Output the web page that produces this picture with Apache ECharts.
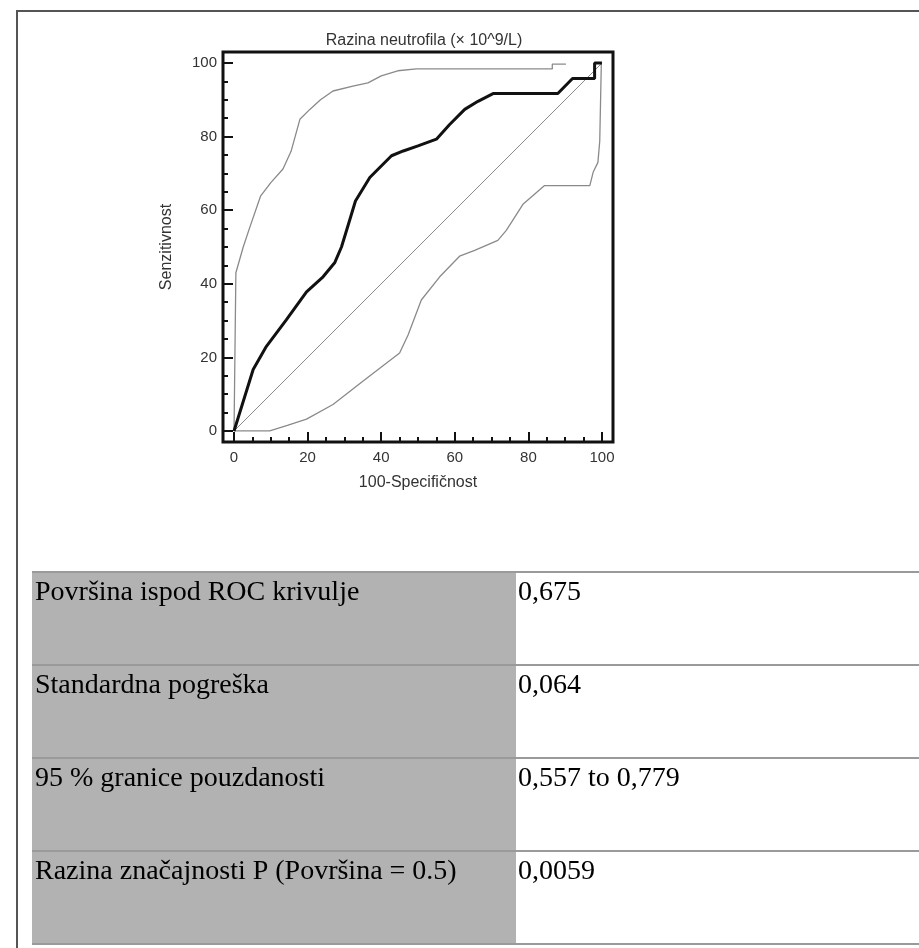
<!DOCTYPE html>
<html lang="hr">
<head>
    <meta charset="UTF-8">
    <title>ROC krivulja</title>
    <script src="https://cdn.jsdelivr.net/npm/echarts@6/dist/echarts.min.js"></script>
    <style>
        html, body { margin: 0; padding: 0; background: #fff; }
        #main { width: 919px; height: 948px; }
    </style>
</head>
<body>
<div id="main"></div>
<script type="text/javascript">
    // tick values
    var majorTicks = [0, 20, 40, 60, 80, 100];
    var minorTicks = [0, 5, 10, 15, 20, 25, 30, 35, 40, 45, 50, 55, 60, 65, 70, 75, 80, 85, 90, 95, 100];

    // ROC curve [100-specificity, sensitivity]
    var rocCurve = [[0, 0], [5.2, 16.7], [8.8, 23], [14.2, 30.2], [19.7, 37.8], [24.2, 41.9], [27.4, 45.8],
        [29.2, 50], [31.4, 57.2], [33, 62.5], [36.9, 68.9], [42.8, 74.8], [46, 76.1], [50, 77.5], [55, 79.3],
        [58.6, 83.3], [62.7, 87.4], [66.3, 89.6], [70.4, 91.7], [88, 91.7], [92, 95.8], [98, 95.8], [98, 100], [100, 100]];
    // 95% confidence bounds
    var upperCI = [[0, 0], [0.5, 43], [2.5, 50], [4.3, 55.4], [7.2, 63.8], [10, 67.5], [13.3, 71.2], [15.5, 76],
        [17.9, 84.7], [20.6, 87.4], [23.5, 90], [26.9, 92.4], [32.3, 93.7], [36.4, 94.6], [40, 96.5], [44.5, 97.9],
        [49.6, 98.4], [86.5, 98.4], [86.5, 99.7], [90.2, 99.7]];
    var lowerCI = [[0, 0], [9.7, 0], [14.5, 1.5], [19.7, 3.2], [26.9, 7.2], [35, 13.5], [45, 21.2], [47.3, 26.1],
        [50.9, 35.6], [55.9, 41.9], [61.3, 47.5], [65.4, 49.1], [71.7, 51.8], [74, 54.5], [78.6, 61.7], [84.4, 66.7],
        [96.7, 66.7], [97.6, 70.3], [98.9, 73], [99.4, 78.8], [99.8, 98.6], [99.8, 100]];
    var diagonal = [[0, 0], [100, 100]];

    // table below the chart
    var tableLabels = ['Površina ispod ROC krivulje', 'Standardna pogreška', '95 % granice pouzdanosti', 'Razina značajnosti P (Površina = 0.5)'];
    var tableValues = ['0,675', '0,064', '0,557 to 0,779', '0,0059'];

    var chartFont = 'Liberation Sans, Arial, sans-serif';
    var tableFont = 'Liberation Serif, Times New Roman, serif';

    function makeAxes(dim) {
        var isX = dim === 'x';
        var base = {
            type: 'value', min: -3, max: 103,
            position: isX ? 'bottom' : 'left',
            axisLine: {show: false, onZero: false},
            splitLine: {show: false}
        };
        var major = Object.assign({}, base, {
            name: isX ? '100-Specifičnost' : 'Senzitivnost',
            nameLocation: 'middle',
            nameGap: isX ? 33 : 48,
            nameTextStyle: {fontFamily: chartFont, fontSize: 16, color: '#333'},
            axisTick: {show: true, inside: true, length: 10, customValues: majorTicks, lineStyle: {color: '#111', width: 2}},
            axisLabel: {show: true, margin: isX ? 8 : 6, customValues: majorTicks, fontFamily: chartFont, fontSize: 15, color: '#333'}
        });
        var minor = Object.assign({}, base, {
            axisTick: {show: true, inside: true, length: 5, customValues: minorTicks, lineStyle: {color: '#111', width: 2}},
            axisLabel: {show: false}
        });
        return [major, minor];
    }

    var tableTop = 572, rowH = 93, tableLeft = 32, splitX = 516;
    var graphics = [
        {type: 'rect', shape: {x: 17, y: 11, width: 1000, height: 1000}, style: {fill: null, stroke: '#555', lineWidth: 2}, z: 100},
        {type: 'rect', shape: {x: tableLeft, y: tableTop, width: splitX - tableLeft, height: rowH * 4}, style: {fill: '#b2b2b2'}}
    ];
    for (var i = 0; i <= tableLabels.length; i++) {
        var yy = tableTop + i * rowH;
        graphics.push({type: 'line', shape: {x1: tableLeft, y1: yy, x2: 919, y2: yy}, style: {stroke: '#9a9a9a', lineWidth: 2}});
    }
    tableLabels.forEach(function (t, i) {
        var ty = tableTop + i * rowH + 21;
        graphics.push({type: 'text', x: 35, y: ty, style: {text: t, font: '28px ' + tableFont, fill: '#000', verticalAlign: 'middle'}});
        graphics.push({type: 'text', x: 518, y: ty, style: {text: tableValues[i], font: '28px ' + tableFont, fill: '#000', verticalAlign: 'middle'}});
    });

    var chart = echarts.init(document.getElementById('main'));
    var option = {
        animation: false,
        title: {
            text: 'Razina neutrofila (× 10^9/L)',
            left: 419, top: 28, textAlign: 'center',
            textStyle: {fontFamily: chartFont, fontSize: 16, fontWeight: 'normal', color: '#333'}
        },
        grid: {left: 223, top: 52, width: 390, height: 390, show: true, borderColor: '#111', borderWidth: 3, backgroundColor: 'transparent'},
        xAxis: makeAxes('x'),
        yAxis: makeAxes('y'),
        series: [
            {type: 'line', data: diagonal, symbol: 'none', lineStyle: {color: '#8a8a8a', width: 1}},
            {type: 'line', data: upperCI, symbol: 'none', lineStyle: {color: '#8a8a8a', width: 1.3}},
            {type: 'line', data: lowerCI, symbol: 'none', lineStyle: {color: '#8a8a8a', width: 1.3}},
            {type: 'line', data: rocCurve, symbol: 'none', lineStyle: {color: '#111', width: 3}}
        ],
        graphic: graphics
    };
    chart.setOption(option);
</script>
</body>
</html>
